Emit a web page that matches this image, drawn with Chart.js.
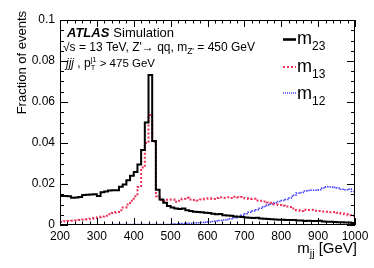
<!DOCTYPE html>
<html><head><meta charset="utf-8">
<script src="https://cdn.jsdelivr.net/npm/chart.js@4.4.1/dist/chart.umd.min.js"></script>
<style>html,body{margin:0;padding:0;background:#fff;overflow:hidden}</style>
</head><body>
<canvas id="c" width="374" height="268" style="width:374px;height:268px;display:block"></canvas>
<script>
// Bin left edges (10 GeV bins), last edge closes the histogram
const binEdges = [200,210,220,230,240,250,260,270,280,290,300,310,320,330,340,350,360,370,380,390,
  400,410,420,430,440,450,460,470,480,490,500,510,520,530,540,550,560,570,580,590,
  600,610,620,630,640,650,660,670,680,690,700,710,720,730,740,750,760,770,780,790,
  800,810,820,830,840,850,860,870,880,890,900,910,920,930,940,950,960,970,980,990];
const lastEdge = 1000;

const m23 = [0.0141,0.0141,0.0140,0.0133,0.0134,0.0136,0.0146,0.0148,0.0149,0.0150,
  0.0142,0.0160,0.0163,0.0168,0.0170,0.0170,0.0187,0.0198,0.0218,0.0240,
  0.0258,0.0295,0.0366,0.0500,0.0732,0.0410,0.0172,0.0125,0.0108,0.0093,
  0.0085,0.0080,0.0078,0.0080,0.0072,0.0068,0.0065,0.0063,0.0062,0.0060,
  0.0058,0.0055,0.0052,0.0054,0.0048,0.0046,0.0045,0.0041,0.0040,0.0039,
  0.0037,0.0035,0.0034,0.0035,0.0032,0.0030,0.0029,0.0028,0.0027,0.0026,
  0.0026,0.0025,0.0024,0.0024,0.0022,0.0022,0.0020,0.0021,0.0020,0.0019,
  0.0021,0.0017,0.0016,0.0016,0.0015,0.0014,0.0013,0.0012,0.0012,0.0010];

const m13 = [0.0015,0.0018,0.0019,0.0021,0.0022,0.0024,0.0026,0.0028,0.0031,0.0034,
  0.0038,0.0041,0.0045,0.0052,0.0058,0.0064,0.0072,0.0085,0.0100,0.0118,
  0.0140,0.0185,0.0280,0.0400,0.0537,0.0405,0.0140,0.0122,0.0118,0.0123,
  0.0125,0.0113,0.0118,0.0128,0.0133,0.0125,0.0122,0.0120,0.0125,0.0128,
  0.0130,0.0127,0.0132,0.0135,0.0133,0.0135,0.0132,0.0138,0.0135,0.0137,
  0.0130,0.0127,0.0128,0.0120,0.0118,0.0115,0.0110,0.0108,0.0100,0.0098,
  0.0094,0.0090,0.0088,0.0080,0.0072,0.0068,0.0075,0.0073,0.0074,0.0070,
  0.0068,0.0066,0.0065,0.0062,0.0064,0.0060,0.0056,0.0052,0.0048,0.0045];

const m12 = [0.0001,0.0001,0.0001,0.0001,0.0001,0.0001,0.0001,0.0001,0.0001,0.0001,
  0.0001,0.0001,0.0001,0.0001,0.0002,0.0002,0.0002,0.0002,0.0002,0.0002,
  0.0002,0.0002,0.0003,0.0003,0.0003,0.0003,0.0003,0.0003,0.0003,0.0003,
  0.0004,0.0005,0.0006,0.0007,0.0008,0.0009,0.0010,0.0011,0.0012,0.0014,
  0.0015,0.0017,0.0019,0.0022,0.0024,0.0027,0.0031,0.0035,0.0042,0.0048,
  0.0055,0.0062,0.0068,0.0074,0.0082,0.0090,0.0097,0.0102,0.0108,0.0115,
  0.0120,0.0125,0.0132,0.0145,0.0156,0.0158,0.0166,0.0168,0.0170,0.0170,
  0.0172,0.0180,0.0186,0.0185,0.0183,0.0180,0.0175,0.0172,0.0176,0.0163];

const xTickLabels = ['200','300','400','500','600','700','800','900','1000'];
const yTickLabels = ['0','0.02','0.04','0.06','0.08','0.1'];
const xRange = [200, 1000];
const yRange = [0, 0.1];

function toPoints(vals){
  const pts = binEdges.map((e,i)=>({x:e, y:vals[i]}));
  pts.push({x:lastEdge, y:vals[vals.length-1]});
  return pts;
}

const FONT = '"Liberation Sans", Arial, Helvetica, sans-serif';
const RED = '#ee3058';
const BLUE = '#4040ff';

function drawRich(ctx, x, y, parts){
  let cx = x;
  for (const p of parts){
    ctx.font = (p.style||'') + ' ' + p.size + 'px ' + FONT;
    if (p.stack){
      const w1 = ctx.measureText(p.sup).width, w2 = ctx.measureText(p.sub).width;
      ctx.fillText(p.sup, cx, y + p.supDy);
      ctx.fillText(p.sub, cx, y + p.subDy);
      cx += Math.max(w1,w2);
    } else {
      ctx.fillText(p.t, cx, y + (p.dy||0));
      cx += ctx.measureText(p.t).width;
    }
  }
  return cx;
}

const decor = {
  id: 'decor',
  afterDraw(chart){
    const {ctx, chartArea:a, scales} = chart;
    const xs = scales.x, ys = scales.y;
    ctx.save();
    ctx.strokeStyle = '#000'; ctx.lineWidth = 1;
    ctx.strokeRect(Math.round(a.left)+0.5, Math.round(a.top)+0.5, Math.round(a.right-a.left)-1, Math.round(a.bottom-a.top)-1);
    const seg = (x1,y1,x2,y2)=>{ctx.beginPath();ctx.moveTo(x1,y1);ctx.lineTo(x2,y2);ctx.stroke();};
    for (let v = xRange[0]; v <= xRange[1]; v += 20){
      const px = Math.round(xs.getPixelForValue(v)) + 0.5;
      const L = (v % 100 === 0) ? 7 : 3.5;
      seg(px, a.bottom, px, a.bottom - L);
      seg(px, a.top, px, a.top + L);
    }
    for (let k = 0; k <= 20; k++){
      const v = k * 0.005;
      const py = Math.round(ys.getPixelForValue(v)) + 0.5;
      const L = (k % 4 === 0) ? 8 : 4;
      seg(a.left, py, a.left + L, py);
      seg(a.right, py, a.right - L, py);
    }
    ctx.fillStyle = '#000';
    ctx.textBaseline = 'alphabetic';
    ctx.textAlign = 'left';
    // ATLAS label
    let cx = drawRich(ctx, 67, 37, [{t:'ATLAS', size:13, style:'italic bold'}]);
    drawRich(ctx, cx + 4, 37, [{t:'Simulation', size:13}]);
    drawRich(ctx, 63, 51, [
      {t:'\u221As = 13 TeV, Z\'\u2192 qq, m', size:12},
      {t:'Z\'', size:8.5, dy:3},
      {t:' = 450 GeV', size:12}
    ]);
    drawRich(ctx, 66, 67, [
      {t:'jjj', size:12, style:'italic'},
      {t:' , p', size:12},
      {stack:true, sup:'j1', sub:'T', size:7.5, supDy:-5, subDy:3},
      {t:' > 475 GeV', size:11.5}
    ]);
    // Legend
    const leg = [
      {name:'23', color:'#000', w:2.6, dash:[], y:44, ly:39.5},
      {name:'13', color:RED, w:2, dash:[2,2], y:72, ly:67},
      {name:'12', color:BLUE, w:1.5, dash:[1,1], y:99, ly:93}
    ];
    for (const l of leg){
      ctx.save();
      ctx.strokeStyle = l.color; ctx.lineWidth = l.w; ctx.setLineDash(l.dash);
      seg(283, l.ly, 296, l.ly);
      ctx.restore();
      drawRich(ctx, 297, l.y, [{t:'m', size:18},{t:l.name, size:12, dy:6}]);
    }
    // axis titles
    ctx.save();
    ctx.translate(26, 11);
    ctx.rotate(-Math.PI/2);
    ctx.textAlign = 'right';
    ctx.font = '13px ' + FONT;
    ctx.fillText('Fraction of events', 0, 0);
    ctx.restore();
    ctx.font = '15px ' + FONT;
    const w1 = ctx.measureText('m').width;
    ctx.font = '10.5px ' + FONT;
    const w2 = ctx.measureText('jj').width;
    ctx.font = '15px ' + FONT;
    const w3 = ctx.measureText(' [GeV]').width;
    drawRich(ctx, 357 - (w1+w2+w3), 253, [{t:'m', size:15},{t:'jj', size:10.5, dy:4},{t:' [GeV]', size:15}]);
    ctx.restore();
  }
};

new Chart(document.getElementById('c'), {
  type: 'line',
  data: {
    datasets: [
      {label:'m23', data: toPoints(m23), borderColor:'#000', borderWidth:2, stepped:true, pointRadius:0, fill:false, order:1},
      {label:'m13', data: toPoints(m13), borderColor:RED, borderWidth:2, borderDash:[2,2], stepped:true, pointRadius:0, fill:false, order:2},
      {label:'m12', data: toPoints(m12), borderColor:BLUE, borderWidth:1.5, borderDash:[1.5,1], stepped:true, pointRadius:0, fill:false, order:3}
    ]
  },
  options: {
    responsive: false,
    animation: false,
    devicePixelRatio: 1,
    layout: {padding: {top: 20, right: 19, left: 0, bottom: 0}},
    plugins: {legend:{display:false}, tooltip:{enabled:false}},
    scales: {
      x: {
        type: 'linear', min: xRange[0], max: xRange[1],
        grid: {display:false, drawTicks:false},
        border: {display:false},
        ticks: {stepSize:100, color:'#000', font:{size:12, family:FONT}, padding:4, maxRotation:0, autoSkip:false,
          callback:(v)=> xTickLabels[Math.round((v-200)/100)]},
        afterFit(s){ s.height = 43; }
      },
      y: {
        min: yRange[0], max: yRange[1],
        grid: {display:false, drawTicks:false},
        border: {display:false},
        ticks: {stepSize:0.02, color:'#000', font:{size:12, family:FONT}, padding:5,
          callback:(v)=> yTickLabels[Math.round(v/0.02)]},
        afterFit(s){ s.width = 60; }
      }
    }
  },
  plugins: [decor]
});
</script>
</body></html>
